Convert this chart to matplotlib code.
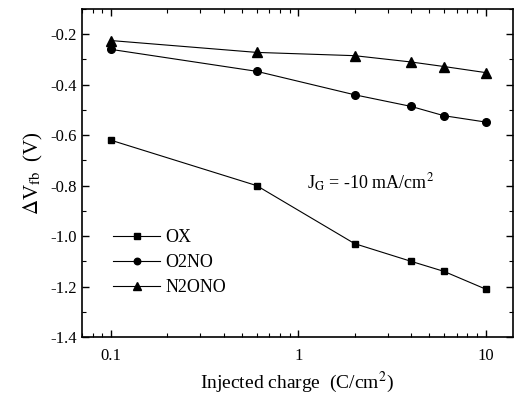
import numpy as np
import matplotlib
matplotlib.use("Agg")
import matplotlib.pyplot as plt

# data
charge = [0.1, 0.6, 2, 4, 6, 10]
ox = [-0.62, -0.80, -1.03, -1.10, -1.14, -1.21]
o2no = [-0.26, -0.347, -0.44, -0.486, -0.523, -0.548]
n2ono = [-0.225, -0.272, -0.285, -0.31, -0.328, -0.352]

plt.rcParams['font.family'] = ['Liberation Serif', 'DejaVu Serif']
plt.rcParams['mathtext.fontset'] = 'stix'

fig = plt.figure(figsize=(5.15, 4.0), dpi=100)
ax = fig.add_axes([0.159, 0.1575, 0.837, 0.82])

ax.plot(charge, ox, color='black', lw=0.8, marker='s', ms=5, label='OX')
ax.plot(charge, o2no, color='black', lw=0.8, marker='o', ms=5.5, label='O2NO')
ax.plot(charge, n2ono, color='black', lw=0.8, marker='^', ms=6.5, label='N2ONO')

ax.set_xscale('log')
ax.set_xlim(0.07, 14)
ax.set_ylim(-1.4, -0.1)
ax.set_xticks([0.1, 1, 10])
ax.set_xticklabels(['0.1', '1', '10'])
ax.set_yticks(np.arange(-1.4, -0.19, 0.2))
ax.set_yticklabels(['-1.4', '-1.2', '-1.0', '-0.8', '-0.6', '-0.4', '-0.2'])
ax.set_yticks(np.arange(-1.3, -0.09, 0.2), minor=True)

ax.tick_params(which='both', direction='in', top=True, right=True, labelsize=12)
ax.tick_params(which='major', length=5, width=1)
ax.tick_params(which='minor', length=3, width=0.8)
ax.tick_params(axis='x', pad=8)
for s in ax.spines.values():
    s.set_linewidth(1.2)

ax.set_xlabel('Injected charge  (C/cm$^2$)', fontsize=14)
ax.set_ylabel(r'$\Delta$V$_{\mathrm{fb}}$  (V)', fontsize=15, labelpad=4)

ax.text(1.12, -0.79, 'J$_\\mathrm{G}$ = -10 mA/cm$^2$', fontsize=13, va='center')

ax.legend(loc='lower left', bbox_to_anchor=(0.035, 0.075), frameon=False,
          fontsize=13, handlelength=2.6, labelspacing=0.45, handletextpad=0.3,
          markerscale=0.85)

fig.savefig('out.png', dpi=100)
